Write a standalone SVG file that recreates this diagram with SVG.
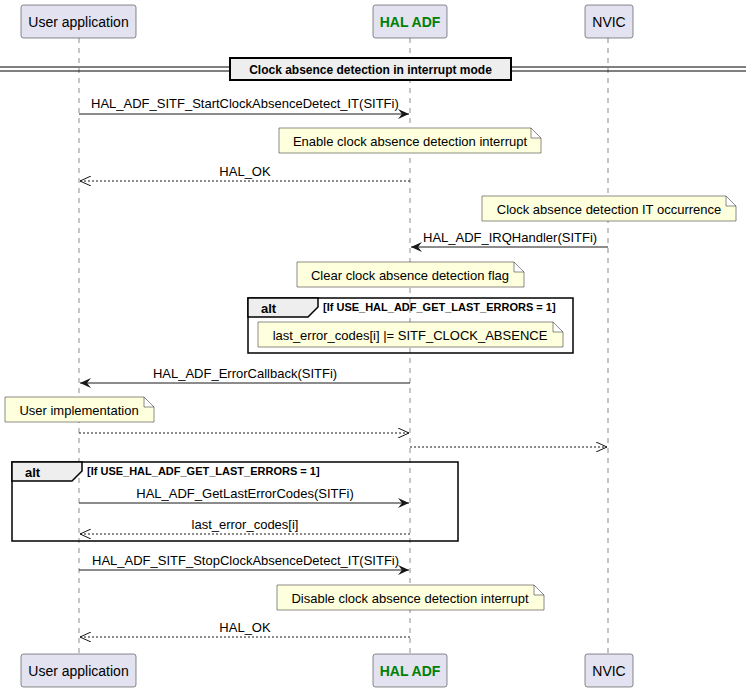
<svg xmlns="http://www.w3.org/2000/svg" width="746" height="691" viewBox="0 0 746 691">
<defs>
<marker id="ah" viewBox="0 0 12 10" refX="11" refY="5" markerWidth="12" markerHeight="10" markerUnits="userSpaceOnUse" orient="auto"><path d="M0,0 L11,5 L0,10 L4,5 Z" fill="#181818"/></marker>
<marker id="oa" viewBox="0 0 12 10" refX="11" refY="5" markerWidth="12" markerHeight="10" markerUnits="userSpaceOnUse" orient="auto"><path d="M0,0 L11,5 L0,10" fill="none" stroke="#181818" stroke-width="1"/></marker>
<style>
text{font-family:"Liberation Sans",Arial,sans-serif;fill:#000}
.p{fill:#E2E2F0;stroke:#181818;stroke-width:0.5}
.pt{font-size:14px}
.ll{stroke:#181818;stroke-width:0.5;stroke-dasharray:5,5}
.m{stroke:#181818;stroke-width:1;fill:none}
.d{stroke-dasharray:2,2}
.mt{font-size:13px}
.n{fill:#FEFFDD;stroke:#181818;stroke-width:0.5}
.fr{fill:none;stroke:#000;stroke-width:1.5}
.tab{fill:#EEEEEE;stroke:#000;stroke-width:1.5}
.b{font-weight:bold}
</style>
</defs>
<g id="lifelines">
<line class="ll" x1="79" y1="38" x2="79" y2="654"/>
<line class="ll" x1="410" y1="38" x2="410" y2="654"/>
<line class="ll" x1="608" y1="38" x2="608" y2="654"/>
</g>
<g id="user-top"><rect class="p" x="21" y="5" width="115" height="33" rx="2.5"/><text class="pt" x="78.5" y="26.5" text-anchor="middle">User application</text></g>
<g id="hal-top"><rect class="p" x="373" y="5" width="74" height="33" rx="2.5"/><text class="pt b" x="410" y="26.5" text-anchor="middle" style="fill:#008000">HAL ADF</text></g>
<g id="nvic-top"><rect class="p" x="585" y="5" width="48" height="33" rx="2.5"/><text class="pt" x="609" y="26.5" text-anchor="middle">NVIC</text></g>
<g id="user-bottom"><rect class="p" x="21" y="654" width="115" height="33" rx="2.5"/><text class="pt" x="78.5" y="675.5" text-anchor="middle">User application</text></g>
<g id="hal-bottom"><rect class="p" x="373" y="654" width="74" height="33" rx="2.5"/><text class="pt b" x="410" y="675.5" text-anchor="middle" style="fill:#008000">HAL ADF</text></g>
<g id="nvic-bottom"><rect class="p" x="585" y="654" width="48" height="33" rx="2.5"/><text class="pt" x="609" y="675.5" text-anchor="middle">NVIC</text></g>
<g id="divider">
<line x1="0" y1="67" x2="746" y2="67" stroke="#000" stroke-width="1"/>
<line x1="0" y1="71" x2="746" y2="71" stroke="#000" stroke-width="1"/>
<rect x="230" y="58" width="281" height="22" fill="#EEEEEE" stroke="#000" stroke-width="2"/>
<text x="370.5" y="74" text-anchor="middle" class="b" font-size="12">Clock absence detection in interrupt mode</text>
</g>
<g id="frames">
<rect class="fr" x="248" y="298" width="325" height="55"/>
<path class="tab" d="M248,298 H318 V307 L308,317 H248 Z"/>
<text x="261" y="313" class="b" font-size="13">alt</text>
<text x="323" y="311" class="b" font-size="11">[If USE_HAL_ADF_GET_LAST_ERRORS = 1]</text>
<rect class="fr" x="12" y="462" width="446" height="79"/>
<path class="tab" d="M12,462 H82 V471 L72,481 H12 Z"/>
<text x="25" y="477" class="b" font-size="13">alt</text>
<text x="87" y="475" class="b" font-size="11">[If USE_HAL_ADF_GET_LAST_ERRORS = 1]</text>
</g>
<g id="notes">
<path class="n" d="M279,128 H531 L541,138 V153 H279 Z M531,128 V138 H541"/>
<text class="mt" x="410" y="145.5" text-anchor="middle">Enable clock absence detection interrupt</text>
<path class="n" d="M482,196 H726 L736,206 V221 H482 Z M726,196 V206 H736"/>
<text class="mt" x="609" y="213.5" text-anchor="middle">Clock absence detection IT occurrence</text>
<path class="n" d="M297,262 H514 L524,272 V287 H297 Z M514,262 V272 H524"/>
<text class="mt" x="410" y="279.5" text-anchor="middle">Clear clock absence detection flag</text>
<path class="n" d="M258,322 H553 L563,332 V347 H258 Z M553,322 V332 H563"/>
<text class="mt" x="410" y="339.5" text-anchor="middle">last_error_codes[i] |= SITF_CLOCK_ABSENCE</text>
<path class="n" d="M5,397 H144 L154,407 V422 H5 Z M144,397 V407 H154"/>
<text class="mt" x="79" y="414.5" text-anchor="middle">User implementation</text>
<path class="n" d="M277,585 H534 L544,595 V610 H277 Z M534,585 V595 H544"/>
<text class="mt" x="410" y="602.5" text-anchor="middle">Disable clock absence detection interrupt</text>
</g>
<g id="connectors">
<line class="m" x1="79" y1="114" x2="409" y2="114" marker-end="url(#ah)"/>
<text class="mt" x="91" y="108">HAL_ADF_SITF_StartClockAbsenceDetect_IT(SITFi)</text>
<line class="m d" x1="410" y1="181" x2="80" y2="181" marker-end="url(#oa)"/>
<text class="mt" x="245" y="176" text-anchor="middle">HAL_OK</text>
<line class="m" x1="608" y1="247" x2="411" y2="247" marker-end="url(#ah)"/>
<text class="mt" x="423" y="242">HAL_ADF_IRQHandler(SITFi)</text>
<line class="m" x1="410" y1="383" x2="80" y2="383" marker-end="url(#ah)"/>
<text class="mt" x="245" y="378" text-anchor="middle">HAL_ADF_ErrorCallback(SITFi)</text>
<line class="m d" x1="79" y1="433" x2="409" y2="433" marker-end="url(#oa)"/>
<line class="m d" x1="410" y1="447" x2="607" y2="447" marker-end="url(#oa)"/>
<line class="m" x1="79" y1="503" x2="409" y2="503" marker-end="url(#ah)"/>
<text class="mt" x="245" y="498" text-anchor="middle">HAL_ADF_GetLastErrorCodes(SITFi)</text>
<line class="m d" x1="410" y1="534" x2="80" y2="534" marker-end="url(#oa)"/>
<text class="mt" x="245" y="529" text-anchor="middle">last_error_codes[i]</text>
<line class="m" x1="79" y1="570" x2="409" y2="570" marker-end="url(#ah)"/>
<text class="mt" x="92" y="565">HAL_ADF_SITF_StopClockAbsenceDetect_IT(SITFi)</text>
<line class="m d" x1="410" y1="637" x2="80" y2="637" marker-end="url(#oa)"/>
<text class="mt" x="245" y="632" text-anchor="middle">HAL_OK</text>
</g>
</svg>
